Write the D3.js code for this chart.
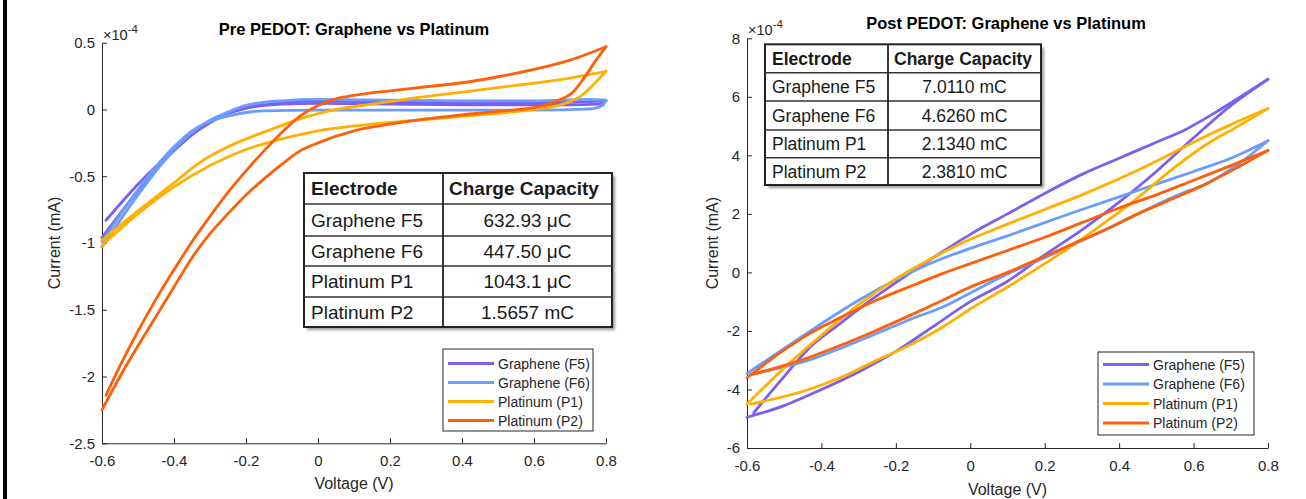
<!doctype html>
<html>
<head>
    <meta charset="utf-8">
    <title>PEDOT CV</title>
    <script src="https://d3js.org/d3.v7.min.js"></script>
    <style type="text/css">
        html, body { margin: 0; background: #fff; }
        svg { display: block; font-family: "Liberation Sans", Arial, sans-serif; }
    </style>
</head>
<body>
<svg id="chart" width="1306" height="499"></svg>
<script>
// ---- data (current in units of 1e-4) ----
var seriesNames = ["Graphene (F5)", "Graphene (F6)", "Platinum (P1)", "Platinum (P2)"];
var seriesColors = ["#7b5ff0", "#6b9cff", "#ffb000", "#ff5f0a"];

var xTicks = [-0.6, -0.4, -0.2, 0, 0.2, 0.4, 0.6, 0.8];
var preYTicks = [0.5, 0, -0.5, -1, -1.5, -2, -2.5];
var postYTicks = [8, 6, 4, 2, 0, -2, -4, -6];

// pre PEDOT loops: forward sweep up to 0.8 V, then reverse sweep
var preF5 = [[-0.589,-0.83],[-0.5,-0.56],[-0.4,-0.3],[-0.35,-0.18],[-0.3,-0.09],[-0.25,-0.03],[-0.2,0.01],[-0.1,0.05],[0,0.065],[0.2,0.055],[0.4,0.05],[0.6,0.05],[0.8,0.065],
             [0.78,0.04],[0.7,0.035],[0.4,0.035],[0.2,0.04],[0,0.045],[-0.1,0.04],[-0.2,0.01],[-0.25,-0.03],[-0.3,-0.1],[-0.35,-0.19],[-0.4,-0.31],[-0.5,-0.61],[-0.6,-0.96]];
var preF6 = [[-0.6,-1.03],[-0.5,-0.64],[-0.4,-0.3],[-0.35,-0.17],[-0.3,-0.08],[-0.25,-0.02],[-0.2,0.03],[-0.1,0.065],[0,0.075],[0.2,0.07],[0.4,0.065],[0.6,0.065],[0.75,0.075],[0.8,0.07],
             [0.79,0.03],[0.76,0.005],[0.6,-0.005],[0.3,-0.005],[0,-0.005],[-0.15,-0.01],[-0.25,-0.05],[-0.3,-0.09],[-0.35,-0.16],[-0.4,-0.28],[-0.5,-0.6],[-0.6,-0.99]];
var preP1 = [[-0.6,-0.98],[-0.5,-0.76],[-0.4,-0.55],[-0.33,-0.4],[-0.25,-0.28],[-0.15,-0.17],[-0.05,-0.07],[0.05,0.0],[0.15,0.04],[0.25,0.08],[0.4,0.13],[0.55,0.18],[0.7,0.235],[0.8,0.285],
             [0.77,0.2],[0.73,0.1],[0.68,0.04],[0.6,0.0],[0.45,-0.04],[0.3,-0.075],[0.15,-0.11],[0,-0.16],[-0.1,-0.22],[-0.2,-0.3],[-0.3,-0.42],[-0.4,-0.58],[-0.5,-0.78],[-0.6,-1.02]];
var preP2 = [[-0.589,-2.14],[-0.55,-1.92],[-0.5,-1.66],[-0.45,-1.42],[-0.4,-1.2],[-0.35,-0.99],[-0.3,-0.8],[-0.25,-0.62],[-0.2,-0.46],[-0.15,-0.31],[-0.1,-0.17],[-0.05,-0.05],[0,0.03],[0.05,0.08],[0.1,0.105],[0.2,0.14],[0.3,0.17],[0.4,0.2],[0.5,0.245],[0.6,0.3],[0.7,0.37],[0.8,0.47],
             [0.77,0.36],[0.74,0.24],[0.71,0.135],[0.67,0.07],[0.62,0.025],[0.5,-0.015],[0.4,-0.04],[0.3,-0.07],[0.2,-0.11],[0.1,-0.16],[0,-0.25],[-0.05,-0.31],[-0.1,-0.41],[-0.15,-0.52],[-0.2,-0.64],[-0.25,-0.78],[-0.3,-0.93],[-0.35,-1.11],[-0.4,-1.33],[-0.45,-1.55],[-0.5,-1.77],[-0.55,-2.0],[-0.6,-2.25]];

// post PEDOT loops
var postF5 = [[-0.6,-4.95],[-0.5,-4.55],[-0.4,-4.0],[-0.3,-3.4],[-0.2,-2.7],[-0.1,-1.85],[0,-1.0],[0.1,-0.3],[0.2,0.6],[0.3,1.45],[0.4,2.4],[0.5,3.45],[0.6,4.6],[0.7,5.7],[0.8,6.6],
              [0.72,5.95],[0.65,5.4],[0.575,4.86],[0.5,4.45],[0.4,3.9],[0.3,3.35],[0.2,2.7],[0.1,2.0],[0,1.3],[-0.1,0.5],[-0.2,-0.35],[-0.273,-1.0],[-0.35,-1.75],[-0.434,-2.6],[-0.5,-3.55],[-0.54,-4.15],[-0.582,-4.8]];
var postF6 = [[-0.6,-3.45],[-0.5,-2.6],[-0.4,-1.75],[-0.3,-0.95],[-0.2,-0.25],[-0.1,0.35],[0,0.82],[0.1,1.25],[0.2,1.7],[0.3,2.15],[0.45,2.8],[0.6,3.45],[0.7,3.9],[0.8,4.5],
              [0.72,3.7],[0.637,3.05],[0.55,2.6],[0.458,2.05],[0.37,1.5],[0.28,0.97],[0.2,0.5],[0.1,-0.05],[0,-0.7],[-0.077,-1.2],[-0.15,-1.55],[-0.256,-2.11],[-0.35,-2.6],[-0.434,-3.0],[-0.59,-3.48]];
var postP1 = [[-0.6,-4.5],[-0.54,-3.75],[-0.48,-3.03],[-0.4,-2.15],[-0.3,-1.1],[-0.2,-0.22],[-0.1,0.5],[0,1.13],[0.1,1.65],[0.2,2.15],[0.3,2.65],[0.4,3.2],[0.5,3.8],[0.6,4.45],[0.7,5.05],[0.8,5.6],
              [0.72,5.0],[0.65,4.5],[0.55,3.6],[0.45,2.55],[0.35,1.6],[0.28,0.97],[0.2,0.3],[0.1,-0.5],[0,-1.25],[-0.077,-1.89],[-0.15,-2.4],[-0.256,-3.03],[-0.35,-3.6],[-0.434,-4.0],[-0.59,-4.5]];
var postP2 = [[-0.6,-3.6],[-0.5,-2.65],[-0.434,-2.11],[-0.35,-1.55],[-0.256,-0.97],[-0.15,-0.42],[-0.077,-0.05],[0,0.3],[0.1,0.75],[0.2,1.2],[0.3,1.7],[0.4,2.2],[0.5,2.65],[0.6,3.15],[0.7,3.65],[0.8,4.17],
              [0.72,3.6],[0.63,3.0],[0.55,2.55],[0.45,2.0],[0.37,1.5],[0.28,1.0],[0.2,0.55],[0.1,0.0],[0,-0.5],[-0.077,-0.97],[-0.15,-1.4],[-0.256,-2.0],[-0.35,-2.5],[-0.434,-2.91],[-0.59,-3.5]];

var tableHeader = ["Electrode", "Charge Capacity"];
var electrodes = ["Graphene F5", "Graphene F6", "Platinum P1", "Platinum P2"];
var preCharge = ["632.93 \u03bcC", "447.50 \u03bcC", "1043.1 \u03bcC", "1.5657 mC"];
var postCharge = ["7.0110 mC", "4.6260 mC", "2.1340 mC", "2.3810 mC"];

var svg = d3.select("#chart");
var axisColor = "#262626";

// page frame line on the left
svg.append("line").attr("x1", 5).attr("x2", 5).attr("y1", 0).attr("y2", 499)
    .attr("stroke", "#000").attr("stroke-width", 4);

// split a loop at its turning point (max voltage) into two x-increasing branches
function branches(loop) {
    var k = d3.maxIndex(loop, function(d) { return d[0]; });
    return [loop.slice(0, k + 1), loop.slice(k).reverse()];
}

function drawPanel(cfg) {
    var x = d3.scaleLinear().domain([-0.6, 0.8]).range([cfg.left, cfg.right]);
    var y = d3.scaleLinear().domain(cfg.yDomain).range([cfg.bottom, cfg.top]);
    var g = svg.append("g");

    // axes (MATLAB style, ticks inside)
    var xa = g.append("g").attr("transform", "translate(0," + cfg.bottom + ")")
        .call(d3.axisBottom(x).tickValues(xTicks).tickSizeInner(-5).tickSizeOuter(0).tickPadding(12)
            .tickFormat(function(d) { return String(+d.toFixed(1)); }));
    var ya = g.append("g").attr("transform", "translate(" + cfg.left + ",0)")
        .call(d3.axisLeft(y).tickValues(cfg.yTicks).tickSizeInner(-5).tickSizeOuter(0).tickPadding(7)
            .tickFormat(function(d) { return String(d); }));
    [xa, ya].forEach(function(a) {
        a.select(".domain").attr("stroke", axisColor);
        a.selectAll(".tick line").attr("stroke", axisColor);
        a.selectAll(".tick text").attr("fill", axisColor).style("font-size", "15px")
            .style("font-family", '"Liberation Sans", Arial, sans-serif');
    });
    xa.selectAll(".tick text").attr("dy", "0.71em");

    // exponent label
    var ex = g.append("text").attr("x", cfg.left + 1).attr("y", cfg.top - 3)
        .attr("fill", axisColor).style("font-size", "14.5px");
    ex.append("tspan").text("\u00d710");
    ex.append("tspan").attr("dy", -7).style("font-size", "11.5px").text("-4");

    // titles
    g.append("text").attr("x", cfg.titleX).attr("y", cfg.titleY).attr("text-anchor", "middle")
        .style("font-size", "16.5px").style("font-weight", "bold").attr("fill", "#000").text(cfg.title);
    g.append("text").attr("x", (cfg.left + cfg.right) / 2).attr("y", cfg.xLabelY).attr("text-anchor", "middle")
        .style("font-size", "16px").attr("fill", axisColor).text("Voltage (V)");
    g.append("text").attr("transform", "translate(" + cfg.yLabelX + "," + ((cfg.top + cfg.bottom) / 2) + ") rotate(-90)")
        .attr("text-anchor", "middle").style("font-size", "16px").attr("fill", axisColor).text("Current (mA)");

    // curves
    var line = d3.line().x(function(d) { return x(d[0]); }).y(function(d) { return y(d[1]); })
        .curve(d3.curveMonotoneX);
    cfg.series.forEach(function(s, i) {
        branches(s).forEach(function(b) {
            g.append("path").datum(b).attr("d", line).attr("fill", "none")
                .attr("stroke", seriesColors[i]).attr("stroke-width", 2.8)
                .attr("stroke-linejoin", "round").attr("stroke-linecap", "round");
        });
    });

    // table with charge capacities
    var tb = cfg.table;
    var rowsY = tb.rows;
    var tg = g.append("g");
    tg.append("rect").attr("x", tb.x0 + 3).attr("y", rowsY[0] + 3)
        .attr("width", tb.x1 - tb.x0).attr("height", rowsY[rowsY.length - 1] - rowsY[0])
        .attr("fill", "#999").style("filter", "blur(1.5px)");
    tg.append("rect").attr("x", tb.x0).attr("y", rowsY[0])
        .attr("width", tb.x1 - tb.x0).attr("height", rowsY[rowsY.length - 1] - rowsY[0])
        .attr("fill", "#fff").attr("stroke", "#222").attr("stroke-width", 2);
    for (var r = 1; r < rowsY.length - 1; r++) {
        tg.append("line").attr("x1", tb.x0).attr("x2", tb.x1).attr("y1", rowsY[r]).attr("y2", rowsY[r])
            .attr("stroke", "#333").attr("stroke-width", 1.6);
    }
    tg.append("line").attr("x1", tb.xm).attr("x2", tb.xm).attr("y1", rowsY[0]).attr("y2", rowsY[rowsY.length - 1])
        .attr("stroke", "#222").attr("stroke-width", 1.8);
    var cells = [tableHeader].concat(electrodes.map(function(e, i) { return [e, cfg.charge[i]]; }));
    cells.forEach(function(row, i) {
        var cy = (rowsY[i] + rowsY[i + 1]) / 2;
        tg.append("text").attr("x", tb.x0 + 7).attr("y", cy).attr("dy", "0.36em")
            .style("font-size", tb.font + "px").style("font-weight", i === 0 ? "bold" : "normal")
            .attr("fill", "#1a1a1a").text(row[0]);
        tg.append("text").attr("x", i === 0 ? tb.xm + 6 : (tb.xm + tb.x1) / 2).attr("y", cy).attr("dy", "0.36em")
            .attr("text-anchor", i === 0 ? "start" : "middle")
            .style("font-size", tb.font + "px").style("font-weight", i === 0 ? "bold" : "normal")
            .attr("fill", "#1a1a1a").text(row[1]);
    });

    // legend
    var lg = cfg.legend;
    g.append("rect").attr("x", lg.x0).attr("y", lg.y0).attr("width", lg.x1 - lg.x0).attr("height", lg.y1 - lg.y0)
        .attr("fill", "#fff").attr("stroke", axisColor).attr("stroke-width", 1);
    seriesNames.forEach(function(n, i) {
        var ly = lg.first + i * lg.step;
        g.append("line").attr("x1", lg.x0 + 5).attr("x2", lg.x0 + 51).attr("y1", ly).attr("y2", ly)
            .attr("stroke", seriesColors[i]).attr("stroke-width", 2.8);
        g.append("text").attr("x", lg.x0 + 55).attr("y", ly).attr("dy", "0.36em")
            .style("font-size", "14px").attr("fill", axisColor).text(n);
    });
}

drawPanel({
    left: 102, right: 606, top: 42.7, bottom: 443.3,
    yDomain: [-2.5, 0.5], yTicks: preYTicks,
    title: "Pre PEDOT: Graphene vs Platinum", titleX: 354, titleY: 35,
    xLabelY: 489, yLabelX: 60,
    series: [preF5, preF6, preP1, preP2],
    charge: preCharge,
    table: { x0: 304, x1: 612, xm: 443, rows: [173, 204, 236, 266, 297, 327], font: 19 },
    legend: { x0: 443, x1: 593, y0: 349, y1: 431, first: 363.5, step: 19 }
});

drawPanel({
    left: 747, right: 1268, top: 38.3, bottom: 448,
    yDomain: [-6, 8], yTicks: postYTicks,
    title: "Post PEDOT: Graphene vs Platinum", titleX: 1006, titleY: 29,
    xLabelY: 495, yLabelX: 718,
    series: [postF5, postF6, postP1, postP2],
    charge: postCharge,
    table: { x0: 765, x1: 1041, xm: 888, rows: [44.3, 72.7, 101, 130, 157.7, 185], font: 17.5 },
    legend: { x0: 1098, x1: 1254, y0: 352, y1: 435, first: 364.5, step: 19.5 }
});
</script>
</body>
</html>
